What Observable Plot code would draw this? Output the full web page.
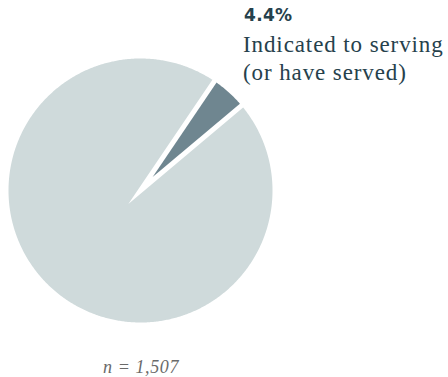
<!DOCTYPE html>
<html><head><meta charset="utf-8">
<script src="https://cdn.jsdelivr.net/npm/d3@7"></script>
<script src="https://cdn.jsdelivr.net/npm/@observablehq/plot@0.6"></script>
<style>
html,body{margin:0;padding:0;background:#fff;}
#wrap{position:relative;width:448px;height:377px;overflow:hidden;}
#chart{position:absolute;left:0;top:0;}
.lbl{position:absolute;left:244px;top:0;color:#26414c;white-space:nowrap;}
.pct{font-family:"DejaVu Sans",sans-serif;font-weight:bold;font-size:17px;position:absolute;left:0;top:5px;letter-spacing:0.3px;}
.txt{font-family:"Liberation Serif",serif;font-size:23px;letter-spacing:0.9px;position:absolute;left:-1px;line-height:28px;top:31px;}
#cap{position:absolute;left:0;width:282px;top:357px;text-align:center;font-family:"Liberation Serif",serif;font-style:italic;font-size:18px;color:#6a6a6a;letter-spacing:0.6px;}
</style></head>
<body><div id="wrap"><div id="chart"></div>
<div class="lbl"><div class="pct"></div><div class="txt"></div></div>
<div id="cap"></div></div>
<script>
const categories = ["Indicated to serving (or have served)", "Other"];
const values = [4.4, 95.6];
const labelPct = "4.4%";
const labelLines = ["Indicated to serving", "(or have served)"];
const caption = "n = 1,507";
const colors = ["#6f8690", "#cfdadb"];

// pie geometry (data units, radius 1)
const startDeg = 34.1;     // clockwise from north
const gap = 2.5 / 132;     // half-gap between slices in radius units
const total = d3.sum(values);
const rows = [];
let a0 = startDeg * Math.PI / 180;
categories.forEach((c, i) => {
  const span = values[i] / total * 2 * Math.PI;
  const a1 = a0 + span;
  const mid = (a0 + a1) / 2;
  const apexD = gap / Math.sin(span / 2);
  rows.push({category: c, x: apexD * Math.sin(mid), y: apexD * Math.cos(mid), order: 0});
  const d = Math.asin(gap);
  const s = a0 + d, e = a1 - d;
  const n = Math.max(2, Math.ceil((e - s) / (Math.PI / 360)));
  for (let k = 0; k <= n; k++) {
    const a = s + (e - s) * k / n;
    rows.push({category: c, x: Math.sin(a), y: Math.cos(a), order: k + 1});
  }
  rows.push({category: c, x: apexD * Math.sin(mid), y: apexD * Math.cos(mid), order: n + 2});
  a0 = a1;
});

const chart = Plot.plot({
  width: 448, height: 377,
  margin: 0,
  x: {domain: [-1, 1], range: [8, 272], axis: null},
  y: {domain: [-1, 1], range: [322, 58], axis: null},
  color: {domain: categories, range: colors},
  marks: [
    Plot.line(rows, {x: "x", y: "y", z: "category", fill: "category", stroke: null, curve: "linear"})
  ]
});
document.getElementById("chart").appendChild(chart);
document.querySelector(".pct").textContent = labelPct;
document.querySelector(".txt").innerHTML = labelLines.map(s => `<div>${s}</div>`).join("");
document.getElementById("cap").textContent = caption;
</script></body></html>
